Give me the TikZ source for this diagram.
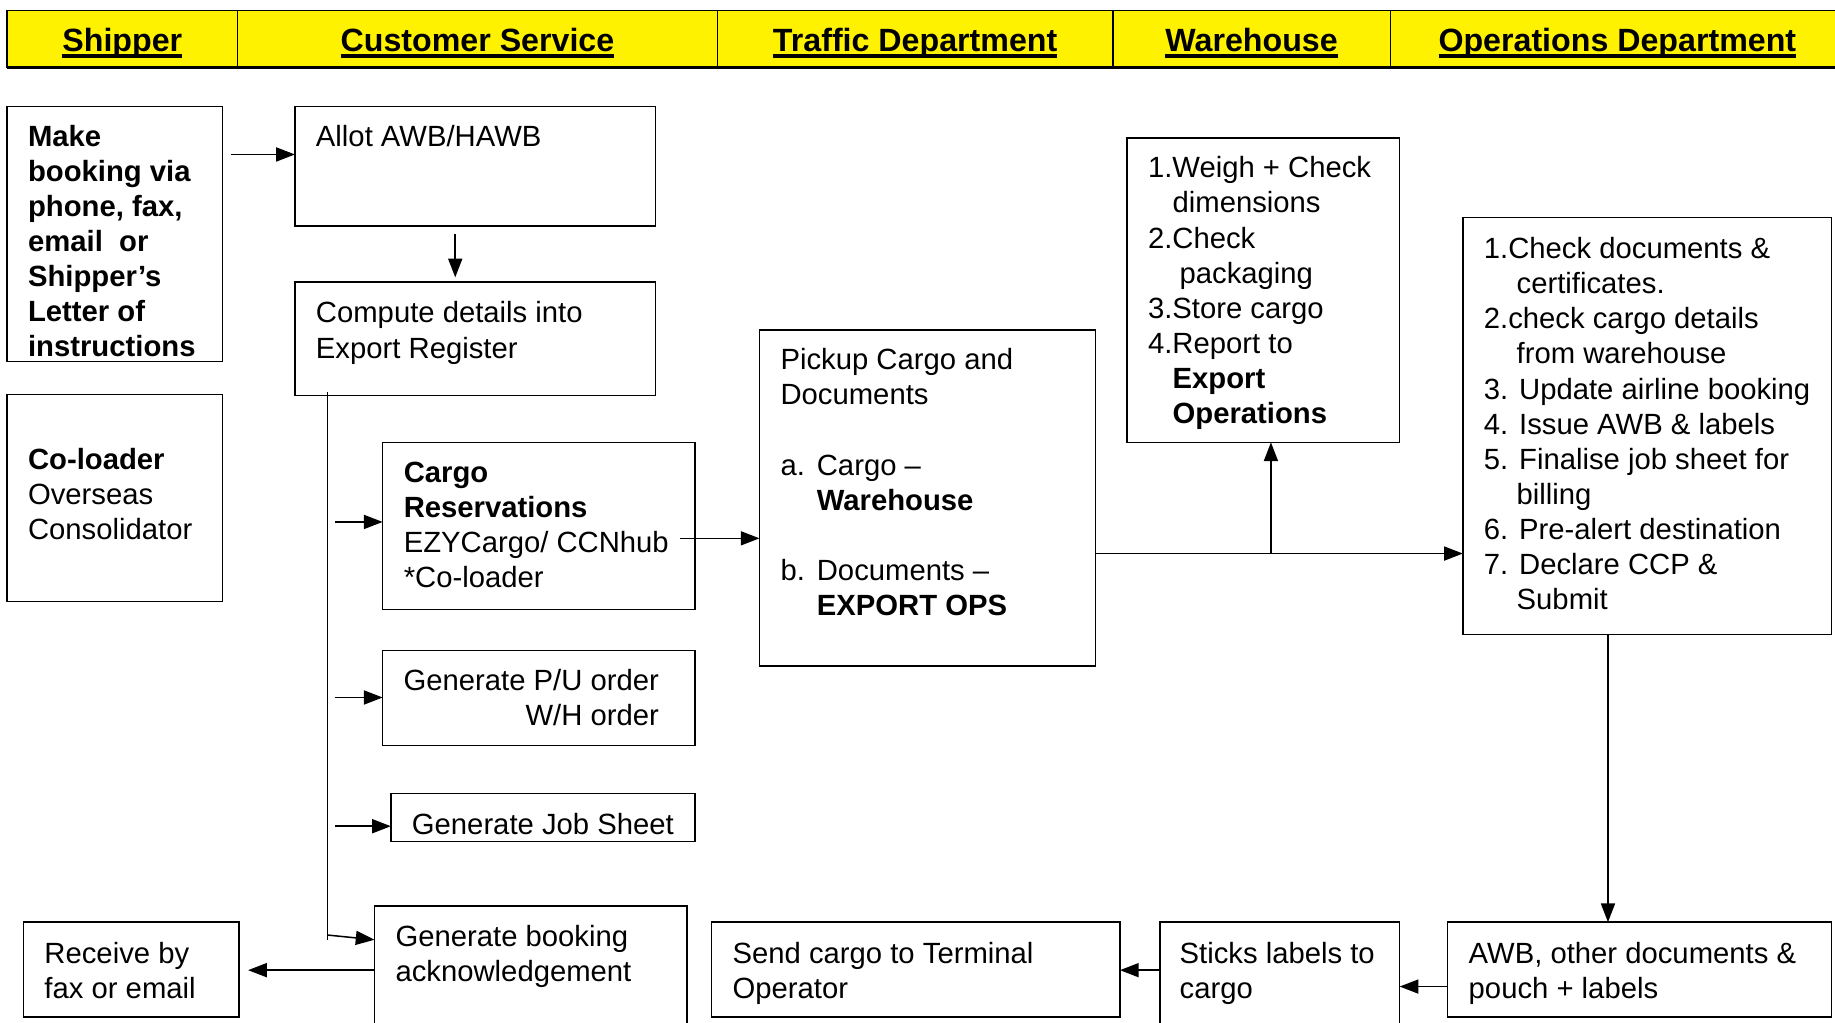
\documentclass[tikz,border=0pt]{standalone}
\usepackage{fontspec}
\setmainfont{Liberation Sans}
\usetikzlibrary{arrows.meta,calc,fit}
\begin{document}
\begin{tikzpicture}[x=1pt,y=-1pt,
  box/.style={draw, line width=1.3pt, inner sep=0pt, outer sep=0pt},
  hcell/.style={draw, line width=1.2pt, fill=yellow, inner sep=0pt, outer sep=0pt},
  htxt/.style={inner sep=0pt, outer sep=0pt, anchor=base, font=\fontsize{27.5}{33}\selectfont\bfseries},
  txt/.style={inner sep=0pt, outer sep=0pt, anchor=north west, align=left, font=\fontsize{25}{30}\selectfont},
  txtb/.style={txt, font=\fontsize{25}{30}\selectfont\bfseries},
  ln/.style={line width=1.3pt},
  arr/.style={line width=1.3pt, -{Triangle[length=16pt,width=12pt]}}
]
\useasboundingbox (0,0) rectangle (1568,874);

% ---------- header ----------
\node[hcell, fit={(6,9) (203,57.5)}] (h1) {};
\node[hcell, fit={(203,9) (613,57.5)}] (h2) {};
\node[hcell, fit={(613,9) (951,57.5)}] (h3) {};
\node[hcell, fit={(951,9) (1188,57.5)}] (h4) {};
\node[hcell, fit={(1188,9) (1576,57.5)}] (h5) {};
\draw[line width=2.5pt] (h1.south west) -- (h5.south east);

\node[htxt] (l1) at (104.5,43.6) {Shipper};
\node[htxt] (l2) at (408,43.6) {Customer Service};
\node[htxt] (l3) at (782,43.6) {Traffic Department};
\node[htxt] (l4) at (1069.5,43.6) {Warehouse};
\node[htxt] (l5) at (1382,43.6) {Operations Department};
\foreach \l in {l1,l2,l3,l4,l5}
  \draw[line width=2.8pt] ([yshift=-4.3pt]\l.base west) -- ([yshift=-4.3pt]\l.base east);

% ---------- boxes ----------
\node[box, fit={(6,91) (190,309)}] (make) {};
\node[box, fit={(252,91) (560,193)}] (allot) {};
\node[box, fit={(252,241) (560,338)}] (compute) {};
\node[box, fit={(6,337) (190,514)}] (colo) {};
\node[box, fit={(327,378) (594,521)}] (cargores) {};
\node[box, fit={(327,556) (594,637)}] (pu) {};
\node[box, fit={(334,678) (594,719)}] (job) {};
\node[box, fit={(320,774) (587,884)}] (ack) {};
\node[box, fit={(20,788) (204,869)}] (recv) {};
\node[box, fit={(649,282) (936,569)}] (pickup) {};
\node[box, fit={(963,118) (1196,378)}] (wh) {};
\node[box, fit={(1250,186) (1565,542)}] (ops) {};
\node[box, fit={(608,788) (957,869)}] (send) {};
\node[box, fit={(991,788) (1196,884)}] (sticks) {};
\node[box, fit={(1237,788) (1565,869)}] (awb) {};

% ---------- texts ----------
\node[txtb] (tmake) at (24,104) {\strut Make\\booking via\\phone, fax,\\email\ \ or\\Shipper’s\\Letter of\\instructions};
\node[txt] (tallot) at (270,104) {\strut Allot AWB/HAWB};
\node[txt] (tcompute) at (270,255) {\strut Compute details into\\Export Register};
\node[txt] (tcolo) at (24,380) {\strut\textbf{Co-loader}\\Overseas\\Consolidator};
\node[txt] (tcargores) at (345,391) {\strut\textbf{Cargo}\\\textbf{Reservations}\\EZYCargo/ CCNhub\\*Co-loader};
\node[txt, anchor=north east, align=right] (tpu) at (563,569) {\strut Generate P/U order\\W/H order};
\node[txt] (tjob) at (352,692) {\strut Generate Job Sheet};
\node[txt] (tack) at (338,788) {\strut Generate booking\\acknowledgement};
\node[txt] (trecv) at (38,802) {\strut Receive by\\fax or email};
\node[txt] (tpickup) at (667,295) {\strut Pickup Cargo and\\Documents\\\strut\\\makebox[31pt][l]{a.}Cargo –\\\hspace*{31pt}\textbf{Warehouse}\\\strut\\\makebox[31pt][l]{b.}Documents –\\\hspace*{31pt}\textbf{EXPORT OPS}};
\node[txt] (twh) at (981,131) {\strut 1.Weigh + Check\\\hspace*{21pt}dimensions\\2.Check\\\hspace*{27pt}packaging\\3.Store cargo\\4.Report to\\\hspace*{21pt}\textbf{Export}\\\hspace*{21pt}\textbf{Operations}};
\node[txt] (tops) at (1268,200) {\strut 1.Check documents \&\\\hspace*{28pt}certificates.\\2.check cargo details\\\hspace*{28pt}from warehouse\\3. Update airline booking\\4. Issue AWB \& labels\\5. Finalise job sheet for\\\hspace*{28pt}billing\\6. Pre-alert destination\\7. Declare CCP \&\\\hspace*{28pt}Submit};
\node[txt] (tsend) at (626,802) {\strut Send cargo to Terminal\\Operator};
\node[txt] (tsticks) at (1008,802) {\strut Sticks labels to\\cargo};
\node[txt] (tawb) at (1255,802) {\strut AWB, other documents \&\\pouch + labels};

% ---------- connectors ----------
\draw[arr] ($(make.north east)+(7,41)$) -- ($(allot.north west)+(0,41)$);
\draw[arr] ($(allot.south west)+(137,7)$) -- ($(compute.north west)+(137,-4)$);

\coordinate (vtop) at ($(compute.south west)+(28,-3)$);
\coordinate (vbot) at ($(compute.south west)+(28,465)$);
\draw[ln] (vtop) -- (vbot);
\draw[arr] ($(compute.south west)+(28,461)$) -- ($(ack.north west)+(0,29)$);

\coordinate (b1) at ($(compute.south west)+(34,108)$);
\coordinate (b2) at ($(compute.south west)+(34,258)$);
\coordinate (b3) at ($(compute.south west)+(34,368)$);
\draw[arr] (b1) -- ($(cargores.north west)+(0,68)$);
\draw[arr] (b2) -- ($(pu.north west)+(0,40)$);
\draw[arr] (b3) -- ($(job.north west)+(0,28)$);

\draw[arr] ($(cargores.north east)+(-13,82)$) -- ($(pickup.north west)+(0,178)$);

\draw[arr] ($(pickup.north east)+(0,191)$) -- ($(ops.north west)+(0,287)$);
\coordinate (jn) at ($(pickup.north east)+(150,191)$);
\draw[arr] (jn) -- (wh.south -| jn);

\draw[arr] ($(ops.south west)+(124,0)$) -- ($(awb.north west)+(137,0)$);
\draw[arr] ($(awb.north west)+(0,55)$) -- ($(sticks.north east)+(0,55)$);
\draw[arr] ($(sticks.north west)+(0,41)$) -- ($(send.north east)+(0,41)$);
\draw[arr] ($(ack.north west)+(0,55)$) -- ($(recv.north east)+(8,41)$);
\end{tikzpicture}
\end{document}
